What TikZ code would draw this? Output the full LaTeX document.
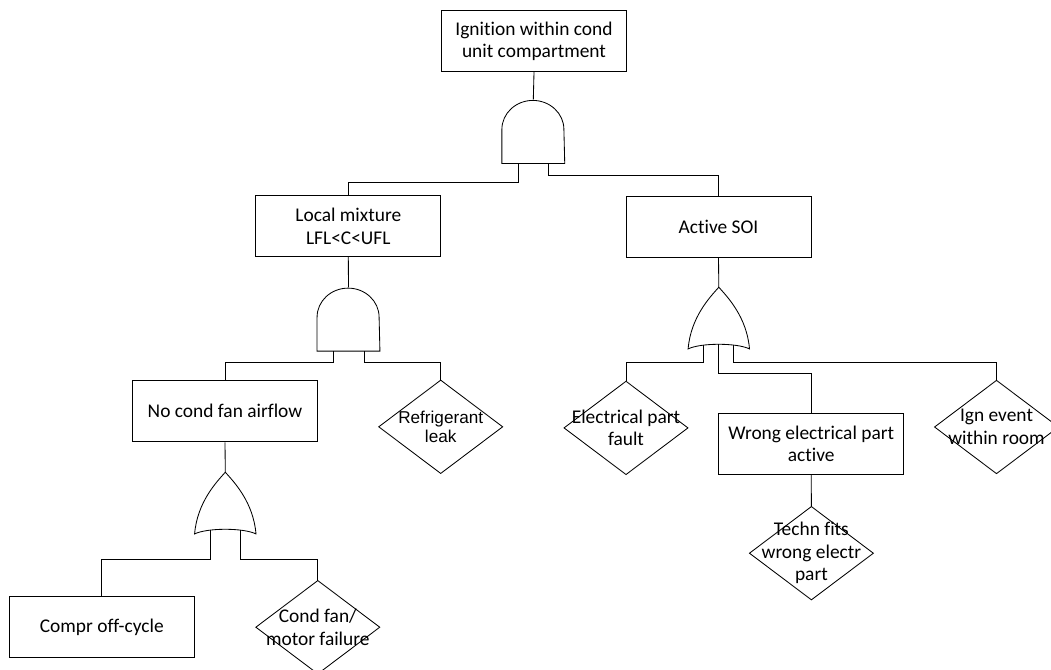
\documentclass[tikz,border=0pt]{standalone}
\usepackage{fontspec}
\setmainfont{Carlito}[Ligatures=NoCommon]
\newfontfamily\arialfont{Liberation Sans}

\tikzset{
  event/.style={draw, rectangle, minimum width=4.62cm, minimum height=1.53cm, align=center, inner sep=2pt},
  basic/.style={rectangle, minimum width=3.075cm, minimum height=2.31cm, align=center, inner sep=0pt},
  andgate/.style={rectangle, minimum width=1.55cm, minimum height=1.575cm, inner sep=0pt},
  orgate/.style={rectangle, minimum width=1.535cm, minimum height=1.5425cm, inner sep=0pt},
}

\begin{document}
\begin{tikzpicture}[x=0.025cm, y=-0.025cm, line width=0.6pt, font=\fontsize{13.8}{16}\selectfont]
    \useasboundingbox (0,0) rectangle (1051,670);

    % Events
    \node[event] (top) at (534,41.2) {Ignition within cond\\unit compartment};
    \node[event] (mix) at (348.3,226.2) {Local mixture\\LFL<C<UFL};
    \node[event] (soi) at (718.5,226.6) {Active SOI};
    \node[event] (nofan) at (225,411.3) {No cond fan airflow};
    \node[event] (wrong) at (811.2,443.8) {Wrong electrical part\\active};
    \node[event] (compr) at (101.8,627.3) {Compr off-cycle};

    % Basic events
    \node[basic, font=\arialfont\fontsize{12.2}{13.7}\selectfont] (leak) at (440.7,426.8) {Refrigerant\\leak};
    \node[basic] (elec) at (626,427.9) {Electrical part\\fault};
    \node[basic] (ign) at (996.5,427) {Ign event\\within room};
    \node[basic] (techn) at (811.4,553.2) {Techn fits\\wrong electr\\part};
    \node[basic] (motor) at (317.8,627.2) {Cond fan/\\motor failure};
    \foreach \n in {leak,elec,ign,techn,motor}
        \draw (\n.north) -- (\n.east) -- (\n.south) -- (\n.west) -- cycle;

    % Gates
    \node[andgate] (g1) at (533.3,131.5) {};
    \node[andgate] (g2) at (348.5,319.2) {};
    \node[orgate] (g3) at (718.8,318.5) {};
    \node[orgate] (g4) at (225.3,503.5) {};
    \foreach \g in {g1,g2}
        \draw (\g.south west) -- ++(0,-34) arc[start angle=180, end angle=0, x radius=0.775cm, y radius=0.725cm] -- (\g.south east) -- cycle;
    \foreach \g in {g3,g4}
        \draw (\g.north) .. controls +(-9,10) and +(2.7,-31.7) .. ++(-30.7,61.7)
            .. controls +(12.7,-6.2) and +(-12.7,-6.2) .. ++(61.4,0)
            .. controls +(-2.7,-31.7) and +(9,10) .. ++(-30.7,-61.7) -- cycle;

    % Connectors
    \draw (top.south) -- (g1.north);
    \draw ([shift={(-15,0)}]g1.south) -- ++(0,19) -| (mix.north);
    \draw ([shift={(15,0)}]g1.south) -- ++(0,11.5) -| (soi.north);

    \draw (mix.south) -- (g2.north);
    \draw ([shift={(-15,0)}]g2.south) -- ++(0,11) -| (nofan.north);
    \draw ([shift={(15.5,0)}]g2.south) -- ++(0,11) -| (leak.north);

    \draw (soi.south) -- (g3.north);
    \draw ([shift={(-15,-4.5)}]g3.south) -- ++(0,16.9) -| (elec.north);
    \draw ([shift={(0,-5.4)}]g3.south) -- ++(0,28.9) -| (wrong.north);
    \draw ([shift={(15,-4.5)}]g3.south) -- ++(0,16.9) -| (ign.north);
    \draw (wrong.south) -- (techn.north);

    \draw (nofan.south) -- (g4.north);
    \draw ([shift={(-15,-4.5)}]g4.south) -- ++(0,28.8) -| (compr.north);
    \draw ([shift={(15,-4.5)}]g4.south) -- ++(0,28.8) -| (motor.north);
\end{tikzpicture}
\end{document}
